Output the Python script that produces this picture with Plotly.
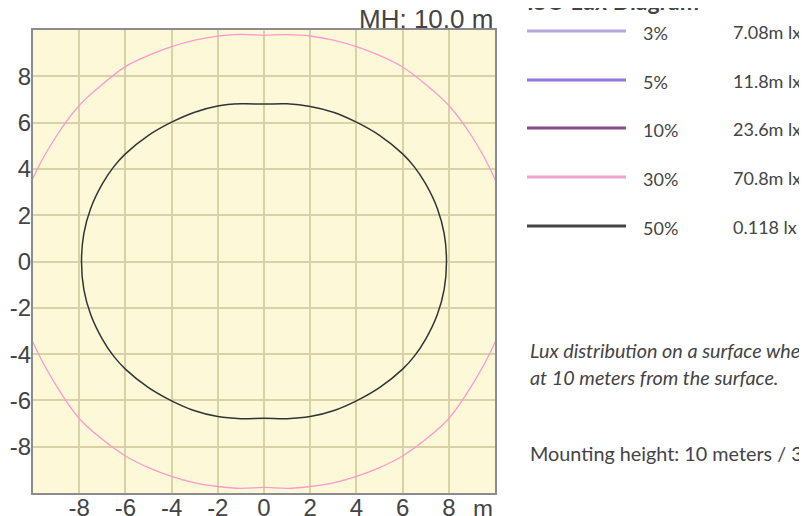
import plotly.graph_objects as go

# ---------------- data ----------------
pct_levels = ["3%", "5%", "10%", "30%", "50%"]
lux_values = ["7.08m lx", "11.8m lx", "23.6m lx", "70.8m lx", "0.118 lx"]
level_colors = ["#b4a8e0", "#8f76e0", "#8a4a88", "#eea2d2", "#444444"]

tick_vals = [-8, -6, -4, -2, 0, 2, 4, 6, 8]
tick_text = ["-8", "-6", "-4", "-2", "0", "2", "4", "6", "8"]

# 30% iso-lux contour (metres)
c30_x = [0, 1, 2, 3, 4, 5, 6, 7, 8, 9, 10, 10.6, 10.8,
         10.6, 10, 9, 8, 7, 6, 5, 4, 3, 2, 1, 0,
         -1, -2, -3, -4, -5, -6, -7, -8, -9, -10, -10.6, -10.8,
         -10.6, -10, -9, -8, -7, -6, -5, -4, -3, -2, -1, 0]
c30_y = [9.77, 9.8, 9.74, 9.56, 9.28, 8.9, 8.4, 7.65, 6.74, 5.4, 3.55, 1.8, 0,
         -1.8, -3.5, -5.35, -6.78, -7.68, -8.4, -8.9, -9.28, -9.56, -9.72, -9.8, -9.76,
         -9.8, -9.72, -9.56, -9.28, -8.9, -8.4, -7.68, -6.78, -5.35, -3.5, -1.8, 0,
         1.8, 3.6, 5.4, 6.74, 7.65, 8.42, 8.9, 9.28, 9.56, 9.74, 9.81, 9.77]

# 50% iso-lux contour (metres)
c50_x = [0, 1, 2, 3, 4, 5, 6, 6.5, 7, 7.5, 7.8, 7.9,
         7.8, 7.5, 7, 6.5, 6, 5, 4, 3, 2, 1, 0,
         -1, -2, -3, -4, -5, -6, -6.5, -7, -7.5, -7.8, -7.9,
         -7.8, -7.5, -7, -6.5, -6, -5, -4, -3, -2, -1, 0]
c50_y = [6.8, 6.81, 6.7, 6.45, 6.02, 5.45, 4.65, 4.1, 3.35, 2.3, 1.2, 0,
         -1.2, -2.3, -3.35, -4.1, -4.65, -5.45, -6.02, -6.45, -6.7, -6.79, -6.77,
         -6.79, -6.7, -6.45, -6.02, -5.45, -4.65, -4.1, -3.35, -2.3, -1.2, 0,
         1.2, 2.3, 3.35, 4.1, 4.65, 5.45, 6.02, 6.45, 6.72, 6.81, 6.8]

# ---------------- layout geometry (window pixels; page body has an 8px margin) ----------------
OFF = 8
FW, FH = 807, 516
L, R, T, B = 33, 495, 30, 493


def px(xp):
    return (xp - L) / (R - L)


def py(yp):
    return (B - yp) / (B - T)


fig = go.Figure()
fig.add_trace(go.Scatter(x=c30_x, y=c30_y, mode="lines",
                         line=dict(color="#ff99cc", width=1.3, shape="spline", smoothing=1.0),
                         hoverinfo="skip", showlegend=False))
fig.add_trace(go.Scatter(x=c50_x, y=c50_y, mode="lines",
                         line=dict(color="#333333", width=1.5, shape="spline", smoothing=1.0),
                         hoverinfo="skip", showlegend=False))

axis_common = dict(range=[-10, 10], tickvals=tick_vals, ticktext=tick_text, showgrid=True,
                   gridcolor="#d8d2a6", gridwidth=1.6, zeroline=False, showline=True,
                   mirror=True, linecolor="#8c8c8c", linewidth=2, ticks="",
                   tickfont=dict(family="Liberation Sans, Arial", size=24, color="#444444"),
                   automargin=False, fixedrange=True)

fig.update_layout(
    width=FW, height=FH,
    margin=dict(l=L - OFF, r=FW - (R - OFF), t=T - OFF, b=FH - (B - OFF), pad=0),
    paper_bgcolor="white", plot_bgcolor="#fdf9d8",
    xaxis=dict(**axis_common, ticklabelstandoff=-8),
    yaxis=dict(**axis_common, ticklabelstandoff=-5),
    showlegend=False,
)

ann = []
ann.append(dict(x=1.0, y=py(36), xref="paper", yref="paper", xanchor="right", yanchor="bottom",
                text="MH: 10.0 m", showarrow=False,
                font=dict(family="Liberation Sans, Arial", size=26, color="#444444")))
ann.append(dict(x=1.0, y=py(508), xref="paper", yref="paper", xanchor="right", yanchor="middle",
                text="m", showarrow=False,
                font=dict(family="Liberation Sans, Arial", size=24, color="#444444")))
ann.append(dict(x=px(525), y=py(17), xref="paper", yref="paper", xanchor="left", yanchor="bottom",
                text="<b>ISO Lux Diagram</b>", showarrow=False,
                font=dict(family="Lato", size=23, color="#444444")))

line_y = [31, 80, 128, 177, 226]
shapes = []
for i, (lvl, val, col) in enumerate(zip(pct_levels, lux_values, level_colors)):
    yl = line_y[i]
    shapes.append(dict(type="line", xref="paper", yref="paper", x0=px(527), x1=px(626),
                       y0=py(yl), y1=py(yl), line=dict(color=col, width=3)))
    ann.append(dict(x=px(641), y=py(yl + 2), xref="paper", yref="paper", xanchor="left",
                    yanchor="middle", text=lvl, showarrow=False,
                    font=dict(family="Lato", size=18, color="#444444")))
    ann.append(dict(x=px(731), y=py(yl + 1), xref="paper", yref="paper", xanchor="left",
                    yanchor="middle", text=val, showarrow=False,
                    font=dict(family="Lato", size=18, color="#444444")))

ann.append(dict(x=px(528), y=py(350), xref="paper", yref="paper", xanchor="left", yanchor="middle",
                text="<i>Lux distribution on a surface where the luminaire is mounted</i>",
                showarrow=False, font=dict(family="Lato", size=19.8, color="#444444")))
ann.append(dict(x=px(528), y=py(377), xref="paper", yref="paper", xanchor="left", yanchor="middle",
                text="<i>at 10 meters from the surface.</i>",
                showarrow=False, font=dict(family="Lato", size=19.8, color="#444444")))
ann.append(dict(x=px(528), y=py(453), xref="paper", yref="paper", xanchor="left", yanchor="middle",
                text="Mounting height: 10 meters / 33 feet",
                showarrow=False, font=dict(family="Lato", size=19.8, color="#444444")))

fig.update_layout(annotations=ann, shapes=shapes)
fig.write_html("out.html")
